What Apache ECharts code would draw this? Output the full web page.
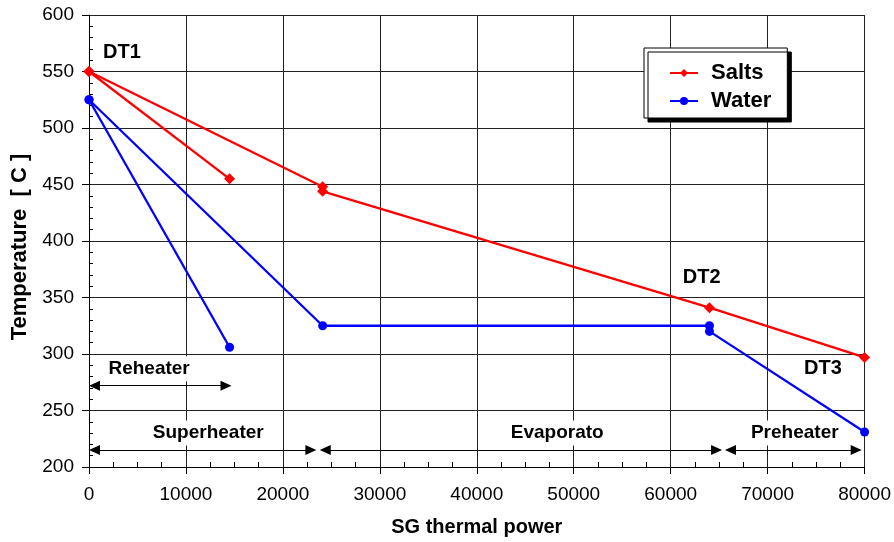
<!DOCTYPE html>
<html>
<head>
<meta charset="utf-8">
<script src="https://cdn.jsdelivr.net/npm/echarts@6/dist/echarts.min.js"></script>
<style>
  html, body { margin: 0; padding: 0; background: #fff; }
  #chart { width: 894px; height: 542px; }
</style>
</head>
<body>
<div id="chart"></div>
<script>
// values: [SG thermal power, temperature]
const saltsReheater = [[0, 550], [14500, 455]];
const saltsMain = [[0, 550], [24100, 448], [24100, 444], [64000, 341], [80000, 297]];
const waterReheater = [[0, 525], [14500, 306]];
const waterMain = [[0, 525], [24100, 325], [64000, 325], [64000, 320], [80000, 231]];

// double arrows under the plot: [from tip, to tip, temperature level]
const sectionSpans = [[0, 14700, 272], [0, 23450, 215], [23800, 65300, 215], [65600, 79700, 215]];
const sectionNames = ['Reheater', 'Superheater', 'Evaporato', 'Preheater'];
const sectionAt = [[6200, 287], [12300, 230], [48300, 230], [72800, 230]];

const dtNames = ['DT1', 'DT2', 'DT3'];
const dtAt = [[3400, 567], [63200, 368], [75700, 287]];

const chart = echarts.init(document.getElementById('chart'));

const font = 'Liberation Sans, Arial, sans-serif';
const RED = '#ff0000';
const BLUE = '#0000ff';
// arrow symbols are centred on the end point, pull them in by half their length
const arrowLen = 11;
const halfArrow = (arrowLen / 2) * 80000 / 776;

function curve(name, data, color, symbol, size) {
    return {
        name: name,
        type: 'line',
        data: data,
        symbol: symbol,
        symbolSize: size,
        showSymbol: true,
        color: color,
        lineStyle: {color: color, width: 2.3},
        itemStyle: {color: color},
        animation: false,
        z: 5
    };
}

function noteSeries(name, names, at, label, z) {
    return {
        name: name,
        type: 'scatter',
        data: names.map((n, i) => ({name: n, value: at[i]})),
        symbolSize: 1,
        itemStyle: {color: 'transparent', opacity: 1},
        silent: true,
        z: z,
        label: Object.assign({
            show: true,
            position: 'inside',
            formatter: '{b}',
            fontWeight: 'bold',
            color: '#000',
            fontFamily: font
        }, label)
    };
}

chart.setOption({
    animation: false,
    textStyle: {fontFamily: font},
    grid: {left: 89, right: 29, top: 15, bottom: 75},
    legend: {
        data: ['Salts', 'Water'],
        orient: 'vertical',
        left: 644,
        top: 48,
        padding: [14, 16, 6, 25],
        itemWidth: 28,
        itemHeight: 10,
        itemGap: 6,
        backgroundColor: '#fff',
        borderColor: '#000',
        borderWidth: 1,
        borderRadius: 0,
        shadowColor: '#000',
        shadowBlur: 0,
        shadowOffsetX: 4,
        shadowOffsetY: 4,
        textStyle: {fontSize: 22, fontWeight: 'bold', color: '#000', fontFamily: font, padding: [0, 0, 0, 8]}
    },
    xAxis: {
        type: 'value',
        min: 0,
        max: 80000,
        interval: 10000,
        name: 'SG thermal power',
        nameLocation: 'middle',
        nameGap: 50,
        nameTextStyle: {fontSize: 20, fontWeight: 'bold', color: '#000', fontFamily: font},
        axisLine: {show: true, onZero: false, lineStyle: {color: '#000', width: 1}},
        axisTick: {show: true, inside: false, length: 7, lineStyle: {color: '#000'}},
        minorTick: {show: true, splitNumber: 4, length: -5, lineStyle: {color: '#000'}},
        axisLabel: {fontSize: 19, color: '#000', margin: 18, fontFamily: font, formatter: v => String(v)},
        splitLine: {show: true, lineStyle: {color: '#222', width: 1}}
    },
    yAxis: {
        type: 'value',
        min: 200,
        max: 600,
        interval: 50,
        name: 'Temperature  [ C ]',
        nameLocation: 'middle',
        nameGap: 56,
        nameTextStyle: {fontSize: 22, fontWeight: 'bold', color: '#000', fontFamily: font, padding: [0, 12, 0, 0]},
        axisLine: {show: true, onZero: false, lineStyle: {color: '#000', width: 1}},
        axisTick: {show: true, inside: false, length: 7, lineStyle: {color: '#000'}},
        minorTick: {show: true, splitNumber: 5, length: -4, lineStyle: {color: '#000'}},
        axisLabel: {fontSize: 19, color: '#000', margin: 15, fontFamily: font},
        splitLine: {show: true, lineStyle: {color: '#222', width: 1}}
    },
    series: [
        noteSeries('sections', sectionNames, sectionAt,
            {fontSize: 19, backgroundColor: '#fff', padding: [4, 12, 2, 12]}, 3),
        {
            name: 'arrows',
            type: 'line',
            data: [],
            silent: true,
            z: 4,
            markLine: {
                silent: true,
                animation: false,
                symbol: ['triangle', 'triangle'],
                symbolSize: [10, arrowLen],
                lineStyle: {color: '#000', width: 1, type: 'solid'},
                label: {show: false},
                emphasis: {disabled: true},
                data: sectionSpans.map(s => [
                    {coord: [s[0] + halfArrow, s[2]]},
                    {coord: [s[1] - halfArrow, s[2]]}
                ])
            }
        },
        noteSeries('dt', dtNames, dtAt, {fontSize: 20}, 6),
        curve('Salts', saltsReheater, RED, 'diamond', 11),
        curve('Salts', saltsMain, RED, 'diamond', 11),
        curve('Water', waterReheater, BLUE, 'circle', 9),
        curve('Water', waterMain, BLUE, 'circle', 9)
    ]
});
</script>
</body>
</html>
